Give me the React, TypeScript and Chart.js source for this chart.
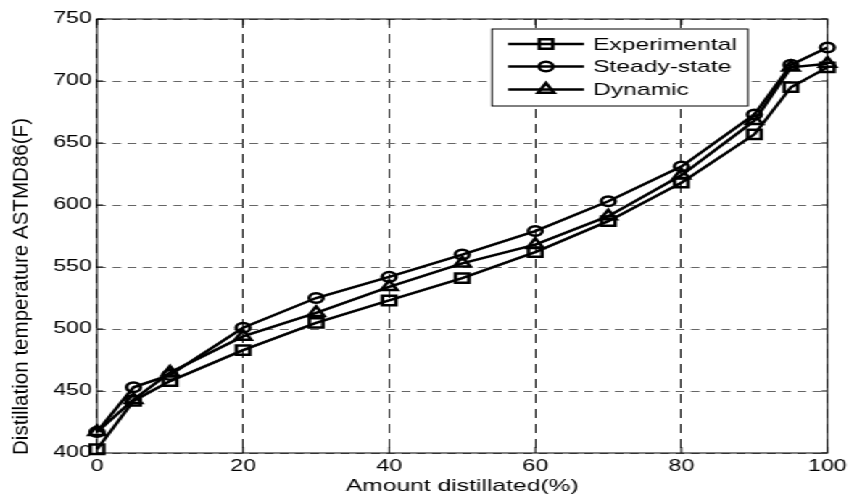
import React, { useEffect, useRef } from 'react';
import { Chart, registerables } from 'chart.js';

Chart.register(...registerables);

// ---- data ----
const xValues = [0, 5, 10, 20, 30, 40, 50, 60, 70, 80, 90, 95, 100];
const experimental = [403, 442, 458, 483, 505, 523, 541, 562, 587, 618, 657, 695, 711];
const steadyState = [417, 453, 463, 501, 525, 542, 560, 579, 603, 631, 673, 713, 727];
const dynamic = [417, 443, 465, 494, 513, 534, 553, 568, 591, 624, 668, 711, 714];
const seriesNames = ['Experimental', 'Steady-state', 'Dynamic'];
const seriesMarkers = ['rect', 'circle', 'triangle'];
const xTicks = [0, 20, 40, 60, 80, 100];
const yTicks = [400, 450, 500, 550, 600, 650, 700, 750];
const xTitle = 'Amount distillated(%)';
const yTitle = 'Distillation temperature ASTMD86(F)';

// ---- layout ----
const SX = 1.45; // horizontal stretch of the original figure
const W = Math.round(853 / SX);
const H = 498;
const FONT = '"Liberation Sans", Arial, Helvetica, sans-serif';
const AREA_LEFT = 97 / SX;
const AREA_RIGHT = 830 / SX;
const MARKER_R: Record<string, number> = { rect: 6.6, circle: 4.8, triangle: 6.4 };
const LINE_W = 2.5;

function drawMarker(ctx: CanvasRenderingContext2D, style: string, x: number, y: number, r: number) {
  ctx.beginPath();
  if (style === 'circle') {
    ctx.arc(x, y, r, 0, Math.PI * 2);
  } else if (style === 'rect') {
    const s = Math.SQRT1_2 * r;
    ctx.rect(x - s, y - s, 2 * s, 2 * s);
  } else {
    let rad = 0;
    ctx.moveTo(x + Math.sin(rad) * r, y - Math.cos(rad) * r);
    rad += (2 * Math.PI) / 3;
    ctx.lineTo(x + Math.sin(rad) * r, y - Math.cos(rad) * r);
    rad += (2 * Math.PI) / 3;
    ctx.lineTo(x + Math.sin(rad) * r, y - Math.cos(rad) * r);
    ctx.closePath();
  }
  ctx.stroke();
}

const framePlugin = {
  id: 'matlabFrame',
  afterDraw(chart: any) {
    const { ctx, chartArea: a, scales } = chart;
    ctx.save();
    // axes box
    ctx.strokeStyle = '#000';
    ctx.lineWidth = 1;
    ctx.setLineDash([]);
    ctx.strokeRect(a.left, a.top, a.right - a.left, a.bottom - a.top);
    // inward tick marks
    ctx.beginPath();
    xTicks.forEach((v) => {
      const x = scales.x.getPixelForValue(v);
      ctx.moveTo(x, a.bottom);
      ctx.lineTo(x, a.bottom - 6);
      ctx.moveTo(x, a.top);
      ctx.lineTo(x, a.top + 6);
    });
    yTicks.forEach((v) => {
      const y = scales.y.getPixelForValue(v);
      ctx.moveTo(a.left, y);
      ctx.lineTo(a.left + 6 / SX, y);
      ctx.moveTo(a.right, y);
      ctx.lineTo(a.right - 6 / SX, y);
    });
    ctx.stroke();

    // y axis title
    ctx.save();
    ctx.translate(22 / SX, 286.5);
    ctx.rotate(-Math.PI / 2);
    ctx.font = '15px ' + FONT;
    const tw = ctx.measureText(yTitle).width;
    ctx.scale(337 / tw, 1);
    ctx.fillStyle = '#000';
    ctx.textAlign = 'center';
    ctx.textBaseline = 'middle';
    ctx.fillText(yTitle, 0, 0);
    ctx.restore();

    // legend
    const bx1 = 492 / SX, bx2 = 748 / SX, by1 = 29, by2 = 106;
    ctx.fillStyle = '#fff';
    ctx.fillRect(bx1, by1, bx2 - bx1, by2 - by1);
    ctx.strokeStyle = '#000';
    ctx.lineWidth = 1;
    ctx.strokeRect(bx1, by1, bx2 - bx1, by2 - by1);
    const rows = [44, 66.5, 89.5];
    const lx1 = 508 / SX, lx2 = 584 / SX, mx = 546 / SX, tx = 593 / SX;
    ctx.font = '17px ' + FONT;
    ctx.textAlign = 'left';
    ctx.textBaseline = 'middle';
    seriesNames.forEach((name, i) => {
      const y = rows[i];
      ctx.strokeStyle = '#000';
      ctx.lineWidth = LINE_W;
      ctx.beginPath();
      ctx.moveTo(lx1, y);
      ctx.lineTo(lx2, y);
      ctx.stroke();
      drawMarker(ctx, seriesMarkers[i], mx, y, MARKER_R[seriesMarkers[i]]);
      ctx.fillStyle = '#000';
      ctx.fillText(name, tx, y + 1);
    });
    ctx.restore();
  },
};

function makeDataset(label: string, values: number[], marker: string) {
  return {
    label,
    data: xValues.map((x, i) => ({ x, y: values[i] })),
    borderColor: '#000',
    backgroundColor: 'rgba(0,0,0,0)',
    borderWidth: LINE_W,
    pointStyle: marker,
    pointRadius: MARKER_R[marker],
    pointBorderWidth: LINE_W,
    pointBorderColor: '#000',
    pointBackgroundColor: 'rgba(0,0,0,0)',
    tension: 0,
    clip: false,
  };
}

export default function App() {
  const canvasRef = useRef<HTMLCanvasElement | null>(null);

  useEffect(() => {
    const canvas = canvasRef.current;
    if (!canvas) return;
    const chart = new Chart(canvas, {
      type: 'line',
      data: {
        datasets: [
          makeDataset(seriesNames[0], experimental, seriesMarkers[0]),
          makeDataset(seriesNames[1], steadyState, seriesMarkers[1]),
          makeDataset(seriesNames[2], dynamic, seriesMarkers[2]),
        ] as any,
      },
      options: {
        responsive: false,
        animation: false,
        devicePixelRatio: 1,
        layout: { padding: { left: 0, top: 19, right: W - AREA_RIGHT, bottom: 0 } },
        plugins: { legend: { display: false }, tooltip: { enabled: false } },
        scales: {
          x: {
            type: 'linear',
            min: 0,
            max: 100,
            afterBuildTicks: (s: any) => {
              s.ticks = xTicks.map((v) => ({ value: v }));
            },
            grid: { color: '#222', lineWidth: 1, drawTicks: false },
            border: { display: false, dash: [9, 6] },
            ticks: { color: '#000', font: { family: FONT, size: 16 }, padding: 4, maxRotation: 0, autoSkip: false },
            title: {
              display: true,
              text: xTitle,
              color: '#000',
              font: { family: FONT, size: 17 },
              padding: { top: 0, bottom: 1 },
            },
            afterFit: (s: any) => {
              s.height = H - 453;
            },
          },
          y: {
            type: 'linear',
            min: 400,
            max: 750,
            afterBuildTicks: (s: any) => {
              s.ticks = yTicks.map((v) => ({ value: v }));
            },
            grid: { color: '#666', lineWidth: 1, drawTicks: false },
            border: { display: false, dash: [6, 4.5] },
            ticks: { color: '#000', font: { family: FONT, size: 16 }, padding: 3.5, autoSkip: false },
            afterFit: (s: any) => {
              s.width = AREA_LEFT;
            },
          },
        },
      } as any,
      plugins: [framePlugin],
    });
    return () => chart.destroy();
  }, []);

  return (
    <div
      style={{
        position: 'absolute',
        left: 0,
        top: 0,
        width: W,
        height: H,
        transform: `scaleX(${SX})`,
        transformOrigin: '0 0',
        background: '#fff',
      }}
    >
      <canvas ref={canvasRef} width={W} height={H} style={{ display: 'block', width: W, height: H }} />
    </div>
  );
}
